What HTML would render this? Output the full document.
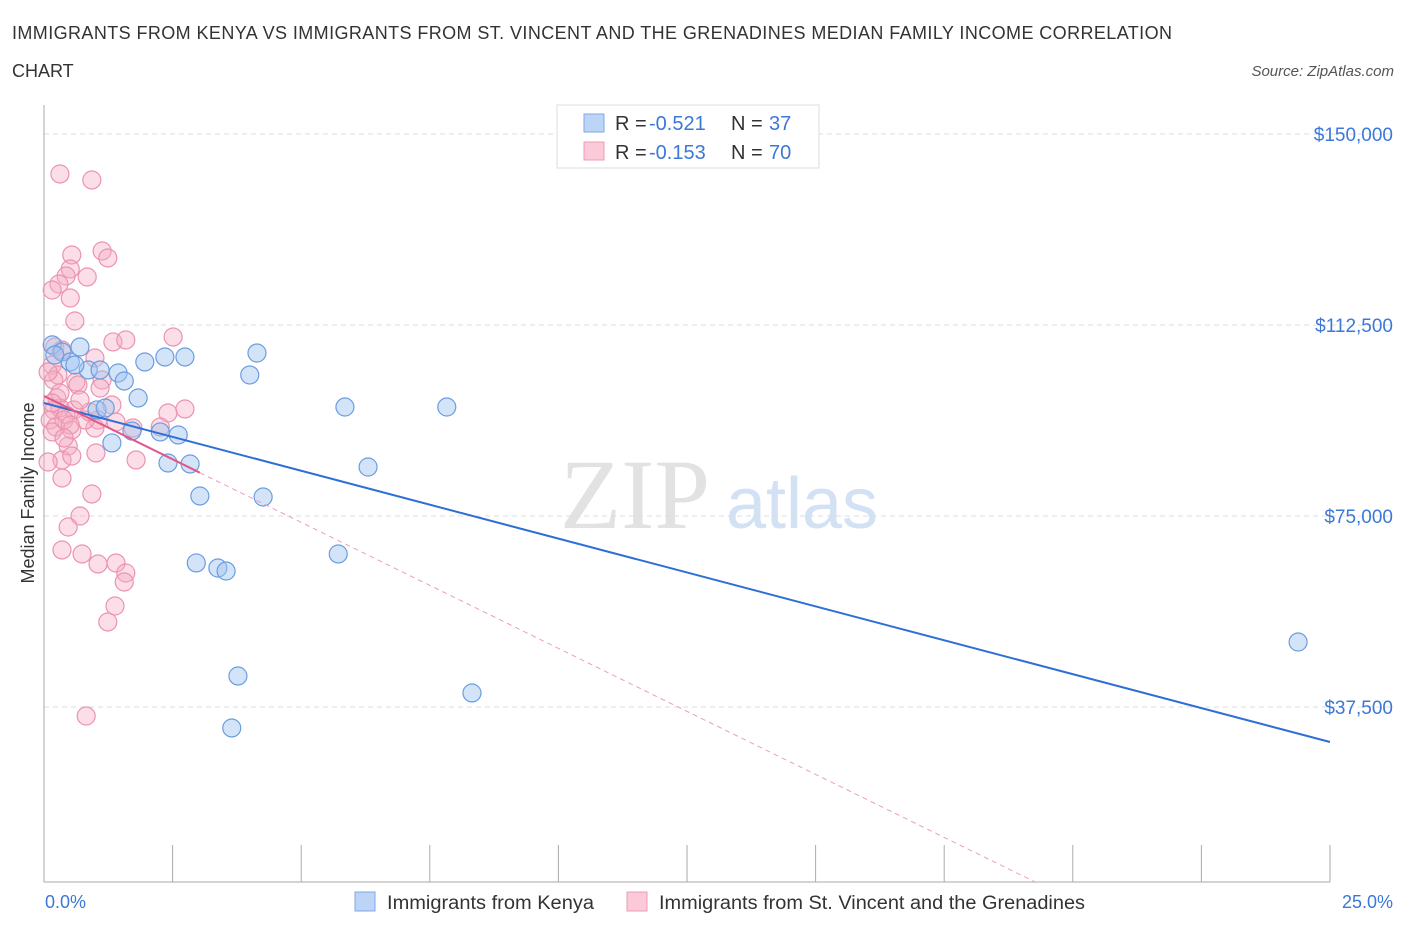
<!DOCTYPE html>
<html><head><meta charset="utf-8"><style>
body{margin:0;background:#fff;font-family:"Liberation Sans",sans-serif;}
#wrap{position:relative;width:1406px;height:930px;overflow:hidden;}
</style></head><body>
<div id="wrap">
<svg id="svg" width="1406" height="930" xmlns="http://www.w3.org/2000/svg">
<text x="12" y="39" font-size="18" fill="#333" textLength="1160" lengthAdjust="spacing">IMMIGRANTS FROM KENYA VS IMMIGRANTS FROM ST. VINCENT AND THE GRENADINES MEDIAN FAMILY INCOME CORRELATION</text>
<text x="12" y="77" font-size="18" fill="#333">CHART</text>
<text x="1394" y="76" font-size="15" fill="#555" font-style="italic" text-anchor="end">Source: ZipAtlas.com</text>
<text x="635" y="528" font-size="100" fill="#e2e2e2" font-family="Liberation Serif,serif" text-anchor="middle">ZIP</text>
<text x="802" y="528" font-size="72" fill="#d3e1f4" text-anchor="middle">atlas</text>
<g id="grid"></g><g id="pts"></g><g id="lines"></g>
<text x="34" y="493" font-size="18" fill="#333" text-anchor="middle" transform="rotate(-90 34 493)">Median Family Income</text>
<text x="45" y="908" font-size="18" fill="#3b78d8">0.0%</text>
<text x="1393" y="908" font-size="18" fill="#3b78d8" text-anchor="end">25.0%</text>
<g>
<rect x="557" y="105" width="262" height="63" fill="#fff" stroke="#ddd"/>
<rect x="584" y="114" width="20" height="18" fill="#bcd4f5" stroke="#7ea9e6"/>
<rect x="584" y="142" width="20" height="18" fill="#fbc9d8" stroke="#ee9cb7"/>
<text x="615" y="130" font-size="20" fill="#333">R =</text><text x="649" y="130" font-size="20" fill="#3b78d8">-0.521</text>
<text x="731" y="130" font-size="20" fill="#333">N =</text><text x="769" y="130" font-size="20" fill="#3b78d8">37</text>
<text x="615" y="159" font-size="20" fill="#333">R =</text><text x="649" y="159" font-size="20" fill="#3b78d8">-0.153</text>
<text x="731" y="159" font-size="20" fill="#333">N =</text><text x="769" y="159" font-size="20" fill="#3b78d8">70</text>
</g>
<g>
<rect x="355" y="892" width="20" height="19" fill="#bcd4f5" stroke="#7ea9e6"/>
<text x="387" y="909" font-size="19" fill="#333" textLength="207" lengthAdjust="spacingAndGlyphs">Immigrants from Kenya</text>
<rect x="627" y="892" width="20" height="19" fill="#fbc9d8" stroke="#ee9cb7"/>
<text x="659" y="909" font-size="19" fill="#333" textLength="426" lengthAdjust="spacingAndGlyphs">Immigrants from St. Vincent and the Grenadines</text>
</g>
</svg></div>
<script>
const yTicks=[37500,75000,112500,150000];
const yTickLabels=["$37,500","$75,000","$112,500","$150,000"];
const xTicks=[0,2.5,5,7.5,10,12.5,15,17.5,20,22.5,25];
const kenyaX=[0.16,0.35,0.51,0.70,0.86,1.09,1.44,1.56,1.96,2.35,2.74,4.14,4.00,1.83,1.03,1.19,1.32,1.71,2.26,2.61,2.41,2.84,3.03,4.26,5.85,7.83,6.30,5.72,2.96,3.38,3.54,3.77,8.32,3.65,24.38,0.21,0.60];
const kenyaY=[108600,107200,105240,108180,103670,103670,103080,101510,105240,106220,106220,107000,102690,98170,95820,96210,89340,91690,91500,90910,85410,85210,78930,78730,96400,96400,84620,67540,65780,64790,64200,43590,40250,33380,50260,106610,104650];
const svgX=[0.31,0.93,0.54,1.13,1.24,0.51,0.43,0.84,0.29,0.16,0.51,0.60,1.34,1.59,2.51,0.99,0.21,0.35,0.16,0.27,0.19,1.13,0.62,0.66,1.09,0.25,1.32,0.58,0.19,0.31,0.43,0.12,0.39,0.23,1.05,1.40,2.41,2.74,0.99,0.54,0.16,0.47,1.73,1.79,1.01,0.35,0.54,0.08,0.35,0.93,0.70,0.47,0.35,0.74,1.05,1.40,1.59,1.56,1.38,1.24,0.82,2.26,0.80,0.31,0.16,0.51,0.89,0.08,0.70,0.39];
const svgY=[142150,140970,126250,127030,125660,123500,122120,121930,120550,119370,117800,113290,109170,109560,110150,106020,108180,107590,104650,102690,101700,101700,101310,100720,100130,98170,96800,95810,95810,96210,94830,93850,93850,92480,93850,93460,95220,96010,92280,91890,91500,88750,92280,86000,87370,86000,86780,85600,82460,79320,75000,72840,68330,67540,65580,65770,63810,62040,57330,54190,35730,92480,93850,99150,97190,92870,95420,103270,97780,90320];
const kenyaTrend=[[0,97190],[25,30630]];
const svgTrendSolid=[[0,98560],[3.03,83500]];
const svgTrendDash=[[3.03,83500],[19.27,3140]];
const NS="http://www.w3.org/2000/svg";
const xs=v=>44+v/25*1286, ys=v=>898-v*191/37500;
function mk(t,a,p){const e=document.createElementNS(NS,t);for(const k in a)e.setAttribute(k,a[k]);p.appendChild(e);return e;}
const grid=document.getElementById('grid'),pts=document.getElementById('pts'),lines=document.getElementById('lines');
yTicks.forEach((v,i)=>{
 const l=mk('line',{x1:44,x2:1394,y1:ys(v),y2:ys(v),stroke:'#ddd','stroke-dasharray':'5,4'},grid);
 
 
 const t=mk('text',{x:1393,y:ys(v)+7,'font-size':19,fill:'#3b78d8','text-anchor':'end'},grid);t.textContent=yTickLabels[i];
 
 
});
const ax=mk('line',{x1:44,x2:44,y1:105,y2:882,stroke:'#aaa'},grid);


const bx=mk('line',{x1:44,x2:1330,y1:882,y2:882,stroke:'#aaa'},grid);


xTicks.forEach(v=>{const l=mk('line',{x1:xs(v),x2:xs(v),y1:845,y2:882,stroke:'#aaa'},grid);
 
 });
svgX.forEach((x,i)=>{const c=mk('circle',{cx:xs(x),cy:ys(svgY[i]),r:9,fill:'rgba(246,172,196,0.4)',stroke:'#eb93b0','stroke-width':1.2},pts);
 
 });
kenyaX.forEach((x,i)=>{const c=mk('circle',{cx:xs(x),cy:ys(kenyaY[i]),r:9,fill:'rgba(160,195,240,0.45)',stroke:'#6a9de0','stroke-width':1.2},pts);
 
 });
function ln(d,st,w,dash,name){const l=mk('line',{x1:xs(d[0][0]),y1:ys(d[0][1]),x2:xs(d[1][0]),y2:ys(d[1][1]),stroke:st,'stroke-width':w},lines);
 if(dash)l.setAttribute('stroke-dasharray',dash);
 
 }
ln(kenyaTrend,'#2e6fd6',2,null,'kenya-trendline');
ln(svgTrendSolid,'#e0588a',2,null,'stvincent-trendline');
ln(svgTrendDash,'#e8a0b8',1,'5,4','stvincent-trendline-extension');
</script>
</body></html>
